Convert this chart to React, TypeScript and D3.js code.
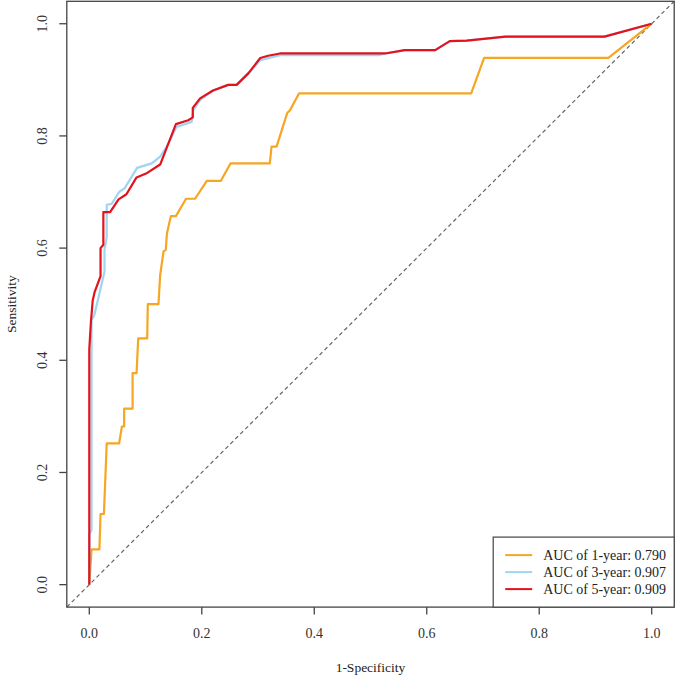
import React from 'react';
import * as d3 from 'd3';

// ROC points, as [1-specificity, sensitivity]
const roc1Year: [number, number][] = [
    [0, 0], [0.002, 0.031], [0.004, 0.063], [0.018, 0.063], [0.020, 0.126], [0.026, 0.126],
    [0.031, 0.252], [0.053, 0.252], [0.058, 0.282], [0.062, 0.282], [0.062, 0.314], [0.077, 0.314],
    [0.077, 0.377], [0.084, 0.377], [0.087, 0.439], [0.103, 0.439], [0.104, 0.500], [0.123, 0.500],
    [0.126, 0.552], [0.132, 0.594], [0.136, 0.597], [0.138, 0.626], [0.145, 0.657], [0.154, 0.657],
    [0.172, 0.688], [0.188, 0.688], [0.209, 0.720], [0.234, 0.720], [0.251, 0.751], [0.321, 0.751],
    [0.324, 0.781], [0.333, 0.781], [0.352, 0.841], [0.357, 0.846], [0.373, 0.876], [0.679, 0.876],
    [0.702, 0.939], [0.923, 0.939], [1, 1]
];

const roc3Year: [number, number][] = [
    [0, 0], [0, 0.09], [0.004, 0.097], [0.004, 0.472], [0.009, 0.481], [0.018, 0.519],
    [0.027, 0.558], [0.027, 0.597], [0.031, 0.620], [0.031, 0.677], [0.040, 0.679], [0.053, 0.700],
    [0.063, 0.707], [0.085, 0.743], [0.111, 0.751], [0.126, 0.763], [0.138, 0.781], [0.155, 0.816],
    [0.182, 0.825], [0.185, 0.846], [0.197, 0.864], [0.220, 0.881], [0.247, 0.891], [0.262, 0.891],
    [0.283, 0.911], [0.304, 0.935], [0.339, 0.944], [0.515, 0.944], [0.526, 0.947], [0.561, 0.953],
    [0.615, 0.953], [0.641, 0.969], [0.671, 0.970], [0.740, 0.977], [0.916, 0.977], [1, 1]
];

const roc5Year: [number, number][] = [
    [0, 0], [0, 0.42], [0.003, 0.47], [0.006, 0.506], [0.0096, 0.522], [0.020, 0.550],
    [0.020, 0.600], [0.025, 0.606], [0.025, 0.664], [0.037, 0.664], [0.052, 0.687], [0.066, 0.696],
    [0.084, 0.726], [0.103, 0.734], [0.126, 0.749], [0.154, 0.821], [0.176, 0.828], [0.184, 0.833],
    [0.184, 0.850], [0.197, 0.867], [0.220, 0.881], [0.247, 0.891], [0.262, 0.891], [0.283, 0.912],
    [0.304, 0.939], [0.318, 0.943], [0.339, 0.947], [0.526, 0.947], [0.561, 0.953], [0.615, 0.953],
    [0.641, 0.969], [0.671, 0.970], [0.740, 0.977], [0.916, 0.977], [1, 1]
];

const seriesData = [roc1Year, roc3Year, roc5Year];
const seriesColors = ['#F5A623', '#9FD4F2', '#E3121B'];
const legendLabels = ['AUC of 1-year: 0.790', 'AUC of 3-year: 0.907', 'AUC of 5-year: 0.909'];
const tickValues = [0, 0.2, 0.4, 0.6, 0.8, 1.0];

const W = 676;
const H = 677;
const FONT = '"Liberation Serif", "Times New Roman", serif';

export default function App() {
    // plot box, R style: domain padded 4% on each side
    const left = 66.8, right = 674.2, top = 1.3, bottom = 607.1;

    const xScale = d3.scaleLinear().domain([-0.04, 1.04]).range([left, right]);
    const yScale = d3.scaleLinear().domain([-0.04, 1.04]).range([bottom, top]);

    const line = d3.line<[number, number]>()
        .x(d => xScale(d[0]))
        .y(d => yScale(d[1]));

    const tickLen = 7.5;

    // legend, sitting in the bottom-right corner of the box
    const legW = 181, legH = 70;
    const legX = right - legW, legY = bottom - legH;
    const rowGap = 17;

    return (
        <svg width={W} height={H} style={{position: 'absolute', left: 0, top: 0, background: '#fff'}}
             fontFamily={FONT}>
            <rect x={0} y={0} width={W} height={H} fill="#fff"/>

            {/* reference diagonal */}
            <line x1={xScale(-0.04)} y1={yScale(-0.04)} x2={xScale(1.04)} y2={yScale(1.04)}
                  stroke="#666" strokeWidth={1.2} strokeDasharray="4,3"/>

            {/* curves */}
            {seriesData.map((d, i) => (
                <path key={i} d={line(d) || ''} fill="none" stroke={seriesColors[i]}
                      strokeWidth={2.2} strokeLinejoin="round"/>
            ))}

            {/* box */}
            <rect x={left} y={top} width={right - left} height={bottom - top}
                  fill="none" stroke="#444" strokeWidth={1.3}/>

            {/* x axis */}
            {tickValues.map(t => (
                <g key={'x' + t}>
                    <line x1={xScale(t)} x2={xScale(t)} y1={bottom} y2={bottom + tickLen}
                          stroke="#444" strokeWidth={1.3}/>
                    <text x={xScale(t)} y={633} textAnchor="middle" dominantBaseline="central"
                          fontSize={14} fill="#333">{t.toFixed(1)}</text>
                </g>
            ))}
            <text x={(left + right) / 2} y={667} textAnchor="middle" dominantBaseline="central"
                  fontSize={13.5} fill="#222">1-Specificity</text>

            {/* y axis */}
            {tickValues.map(t => (
                <g key={'y' + t}>
                    <line x1={left - tickLen} x2={left} y1={yScale(t)} y2={yScale(t)}
                          stroke="#444" strokeWidth={1.3}/>
                    <text transform={`translate(42,${yScale(t)}) rotate(-90)`} textAnchor="middle"
                          dominantBaseline="central" fontSize={14} fill="#333">{t.toFixed(1)}</text>
                </g>
            ))}
            <text transform={`translate(11,${(top + bottom) / 2}) rotate(-90)`} textAnchor="middle"
                  dominantBaseline="central" fontSize={13.5} fill="#222">Sensitivity</text>

            {/* legend */}
            <rect x={legX} y={legY} width={legW} height={legH} fill="#fff" stroke="#444" strokeWidth={1.2}/>
            {legendLabels.map((lab, i) => {
                const cy = legY + 18 + i * rowGap;
                return (
                    <g key={lab}>
                        <line x1={legX + 12} x2={legX + 39} y1={cy} y2={cy}
                              stroke={seriesColors[i]} strokeWidth={2}/>
                        <text x={legX + 50} y={cy} dominantBaseline="central" fontSize={14}
                              fill="#222">{lab}</text>
                    </g>
                );
            })}
        </svg>
    );
}
